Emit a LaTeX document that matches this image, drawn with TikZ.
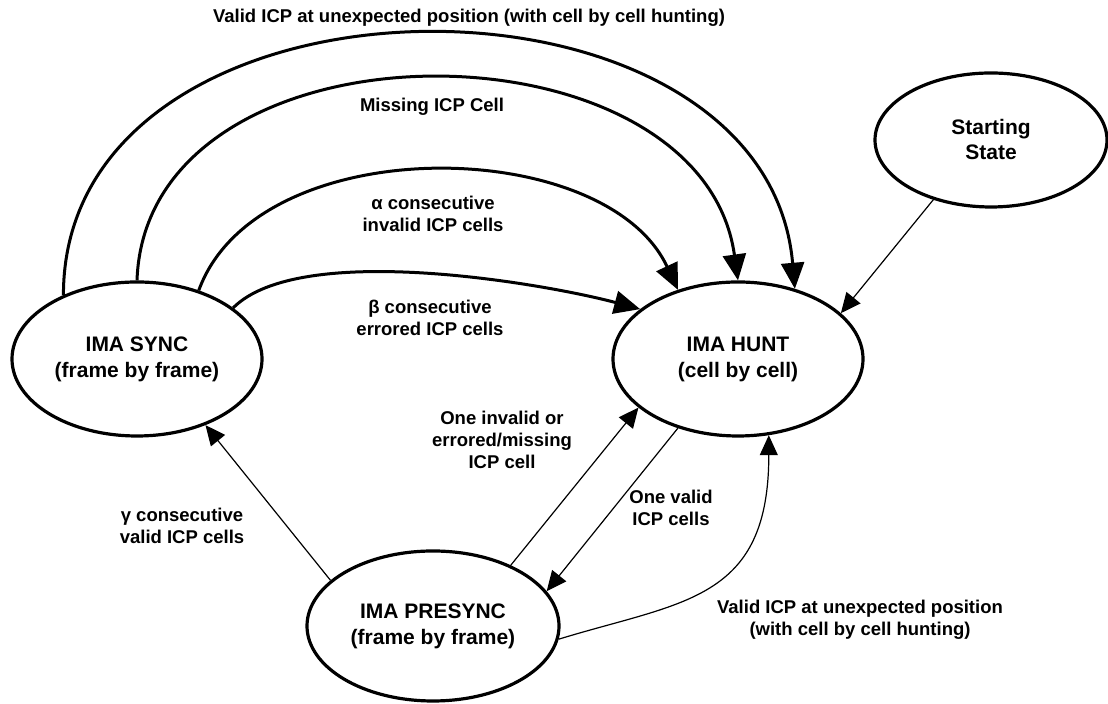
\documentclass[tikz,border=0pt]{standalone}
\usepackage{fontspec}
\setmainfont{Liberation Sans}
\usetikzlibrary{shapes.geometric,arrows.meta}

\begin{document}
\begin{tikzpicture}[%
    x=0.5pt, y=0.5pt,
    >={Triangle[length=10pt,width=9pt]},
    mode/.style={draw, ellipse, line width=1.6pt, inner sep=0pt, align=center,
      font=\bfseries\fontsize{10.5}{13}\selectfont},
    tag/.style={align=center, inner sep=0pt,
      font=\bfseries\fontsize{9.25}{11}\selectfont},
    bold/.style={line width=1.5pt, -{Triangle[length=13pt,width=11.5pt]}},
    thin/.style={line width=0.6pt}
    ]

    \useasboundingbox (0,0) rectangle (1108,704);

    \node[mode, minimum width=125pt, minimum height=77pt] (sync) at (137,345) {IMA SYNC\\(frame by frame)};
    \node[mode, minimum width=125pt, minimum height=77pt] (hunt) at (738,345) {IMA HUNT\\(cell by cell)};
    \node[mode, minimum width=126pt, minimum height=75pt] (presync) at (433,78) {IMA PRESYNC\\(frame by frame)};
    \node[mode, minimum width=116pt, minimum height=67pt,
      font=\bfseries\fontsize{10.5}{12.5}\selectfont] (start) at (991,564) {Starting\\State};

    \node[tag] (ttop) at (469,686) {Valid ICP at unexpected position (with cell by cell hunting)};
    \node[tag] (tmiss) at (432,597) {Missing ICP Cell};
    \node[tag] (talpha) at (433,490) {α consecutive\\invalid ICP cells};
    \node[tag] (tbeta) at (430,386) {β consecutive\\errored ICP cells};
    \node[tag] (tgamma) at (182,178) {γ consecutive\\valid ICP cells};
    \node[tag] (tbad) at (502,264) {One invalid or\\errored/missing\\ICP cell};
    \node[tag] (tgood) at (671,196) {One valid\\ICP cells};
    \node[tag] (tlow) at (860,84) {Valid ICP at unexpected position\\(with cell by cell hunting)};

    \path[bold] (sync.139) edge[out=90, in=95, looseness=1.2] (hunt.51);
    \path[bold] (sync.90) edge[out=88, in=98, looseness=1.15] (hunt.90);
    \path[bold] (sync.48) edge[out=70, in=115, looseness=0.92] (hunt.131);
    \path[bold] (sync.28) edge[out=45, in=165, looseness=0.6] (hunt.153);

    \path[->, thin] (start.226) edge (hunt.24);
    \path[->, thin] (presync.156) edge (sync.-44);
    \path[->, thin] (presync.38) edge (hunt.206);
    \path[->, thin] (hunt.229) edge (presync.17);
    \draw[->, thin] (presync.-6) .. controls +(124,38) and +(0,-166) .. (hunt.-68);

\end{tikzpicture}
\end{document}
